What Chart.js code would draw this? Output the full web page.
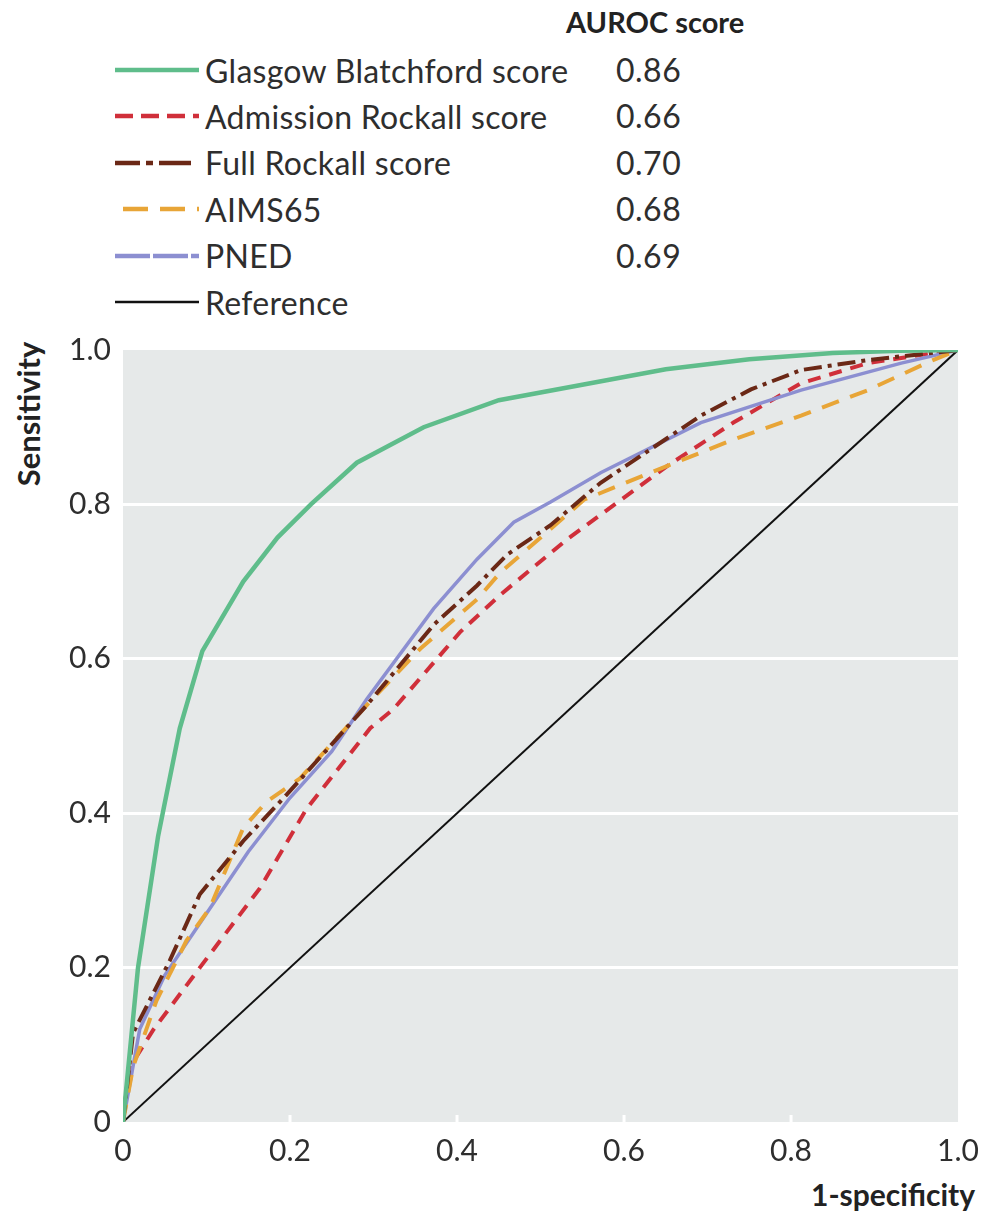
<!DOCTYPE html>
<html lang="en">
<head>
<meta charset="UTF-8">
<title>ROC curves</title>
<script src="https://cdn.jsdelivr.net/npm/chart.js@4"></script>
<style>
  body { margin: 0; background: #fff; width: 982px; height: 1222px; position: relative; overflow: hidden;
         font-family: Lato, "Liberation Sans", sans-serif; color: #2e2e2e; }
  #chart { position: absolute; left: 0; top: 320px; }
  .lg-row { position: absolute; left: 113px; height: 40px; display: flex; align-items: center; font-size: 32px; letter-spacing: 0.3px; white-space: nowrap; }
  .lg-row svg { width: 88px; height: 12px; margin-right: 4px; }
  .lg-val { position: absolute; left: 616px; font-size: 32px; letter-spacing: 0.5px; height: 40px; line-height: 40px; }
  .head { position: absolute; left: 566px; top: 4px; font-size: 29px; font-weight: bold; color: #222; }
  .ytitle { position: absolute; left: 28px; top: 414px; transform: translate(-50%, -50%) rotate(-90deg); font-size: 31px; font-weight: bold; color: #222; white-space: nowrap; }
  .xtitle { position: absolute; right: 7px; top: 1176px; font-size: 30px; font-weight: bold; color: #222; }
</style>
</head>
<body>
<div id="legend"></div>
<div class="ytitle">Sensitivity</div>
<div class="xtitle">1-specificity</div>
<canvas id="chart" width="982" height="860"></canvas>
<script>
// series names and AUROC scores from the legend
const seriesNames = ['Glasgow Blatchford score', 'Admission Rockall score', 'Full Rockall score', 'AIMS65', 'PNED', 'Reference'];
const aurocScores = ['0.86', '0.66', '0.70', '0.68', '0.69', ''];

// 1-specificity (x) and sensitivity (y)
const gbsX = [0, 0.018, 0.042, 0.068, 0.095, 0.144, 0.185, 0.225, 0.28, 0.36, 0.45, 0.55, 0.65, 0.75, 0.85, 0.93, 1];
const gbsY = [0, 0.2, 0.37, 0.51, 0.61, 0.7, 0.757, 0.8, 0.854, 0.9, 0.935, 0.955, 0.975, 0.988, 0.996, 0.999, 1];

const admX = [0, 0.008, 0.036, 0.092, 0.164, 0.22, 0.296, 0.324, 0.404, 0.452, 0.532, 0.652, 0.731, 0.812, 0.892, 0.97, 1];
const admY = [0, 0.071, 0.119, 0.2, 0.303, 0.406, 0.51, 0.535, 0.635, 0.683, 0.755, 0.85, 0.906, 0.957, 0.983, 0.996, 1];

const fullX = [0, 0.012, 0.056, 0.092, 0.144, 0.196, 0.292, 0.372, 0.424, 0.46, 0.512, 0.572, 0.692, 0.752, 0.812, 0.892, 1];
const fullY = [0, 0.115, 0.209, 0.295, 0.364, 0.424, 0.54, 0.644, 0.695, 0.735, 0.773, 0.828, 0.915, 0.949, 0.974, 0.987, 1];

const aimsX = [0, 0.012, 0.04, 0.076, 0.104, 0.144, 0.172, 0.212, 0.292, 0.356, 0.424, 0.452, 0.512, 0.552, 0.652, 0.731, 0.812, 0.892, 0.97, 1];
const aimsY = [0, 0.071, 0.157, 0.235, 0.277, 0.381, 0.415, 0.445, 0.54, 0.613, 0.677, 0.712, 0.768, 0.806, 0.85, 0.884, 0.915, 0.948, 0.987, 1];

const pnedX = [0, 0.02, 0.05, 0.1, 0.15, 0.2, 0.25, 0.292, 0.372, 0.424, 0.468, 0.512, 0.572, 0.692, 0.812, 0.932, 1];
const pnedY = [0, 0.12, 0.19, 0.27, 0.35, 0.42, 0.48, 0.548, 0.665, 0.729, 0.777, 0.803, 0.841, 0.906, 0.948, 0.983, 1];

const refX = [0, 1];
const refY = [0, 1];

const tickValues = [0, 0.2, 0.4, 0.6, 0.8, 1.0];
const tickLabels = ['0', '0.2', '0.4', '0.6', '0.8', '1.0'];

const colors = ['#5fbd8b', '#d02f3a', '#6b2816', '#e8a537', '#8c8fd1', '#111111'];
const widths = [4.5, 4, 4, 4, 3.5, 2];
const dashes = [[], [13, 9], [18, 6, 4, 6], [18, 12], [], []];
const legendDash = ['', '18 8', '25 6 7 6 32', '25 12', '35 3', ''];

const xs = [gbsX, admX, fullX, aimsX, pnedX, refX];
const ys = [gbsY, admY, fullY, aimsY, pnedY, refY];

// legend (HTML)
const legend = document.getElementById('legend');
const head = document.createElement('div');
head.className = 'head';
head.textContent = 'AUROC score';
legend.appendChild(head);
seriesNames.forEach((name, i) => {
    const top = 50 + i * 46.4;
    const row = document.createElement('div');
    row.className = 'lg-row';
    row.style.top = top + 'px';
    const start = i === 3 ? 10 : 2;
    row.innerHTML = `<svg viewBox="0 0 88 12"><line x1="${start}" y1="6" x2="86" y2="6" stroke="${colors[i]}"
        stroke-width="${i === 5 ? 2.5 : 4.5}" stroke-dasharray="${legendDash[i]}"/></svg><span>${name}</span>`;
    legend.appendChild(row);
    if (aurocScores[i]) {
        const v = document.createElement('div');
        v.className = 'lg-val';
        v.style.top = top + 'px';
        v.textContent = aurocScores[i];
        legend.appendChild(v);
    }
});

// draw order: first dataset ends up on top
const drawOrder = [0, 2, 3, 4, 1, 5];
const datasets = drawOrder.map((i, k) => ({
    label: seriesNames[i],
    data: xs[i].map((x, j) => ({ x: x, y: ys[i][j] })),
    borderColor: colors[i],
    borderWidth: widths[i],
    borderDash: dashes[i],
    pointRadius: 0,
    tension: 0,
    fill: false,
    order: k
}));

const bgPlugin = {
    id: 'bgPlugin',
    beforeDraw(chart) {
        const { ctx, chartArea: a } = chart;
        ctx.save();
        ctx.fillStyle = '#e6e9e9';
        ctx.fillRect(a.left, a.top, a.right - a.left, a.bottom - a.top);
        ctx.restore();
    },
    beforeDatasetsDraw(chart) {
        const { ctx, chartArea: a, scales } = chart;
        ctx.save();
        ctx.strokeStyle = '#ffffff';
        ctx.lineWidth = 3;
        tickValues.slice(1, -1).forEach(v => {
            const px = scales.x.getPixelForValue(v);
            ctx.beginPath();
            ctx.moveTo(px, a.bottom);
            ctx.lineTo(px, a.bottom - 7);
            ctx.stroke();
        });
        ctx.restore();
    }
};

const tickFont = { family: 'Lato, "Liberation Sans", sans-serif', size: 30 };

new Chart(document.getElementById('chart').getContext('2d'), {
    type: 'line',
    data: { datasets: datasets },
    options: {
        responsive: false,
        animation: false,
        layout: { padding: { top: 21, right: 18, left: 0, bottom: 0 } },
        plugins: { legend: { display: false }, tooltip: { enabled: false } },
        scales: {
            x: {
                type: 'linear', min: 0, max: 1,
                afterFit(s) { s.height = 58; },
                afterBuildTicks(s) { s.ticks = tickValues.map(v => ({ value: v })); },
                ticks: { padding: 3, color: '#2e2e2e', font: tickFont, maxRotation: 0,
                         callback: (v, i) => tickLabels[i] },
                grid: { display: false },
                border: { display: false }
            },
            y: {
                type: 'linear', min: 0, max: 1,
                afterFit(s) { s.width = 123; },
                afterBuildTicks(s) { s.ticks = tickValues.map(v => ({ value: v })); },
                ticks: { padding: 12, color: '#2e2e2e', font: tickFont,
                         callback: (v, i) => tickLabels[i] },
                grid: {
                    drawTicks: false, lineWidth: 3,
                    color: c => (c.tick && c.tick.value > 0 && c.tick.value < 1) ? '#ffffff' : 'rgba(0,0,0,0)'
                },
                border: { display: false }
            }
        }
    },
    plugins: [bgPlugin]
});
</script>
</body>
</html>
